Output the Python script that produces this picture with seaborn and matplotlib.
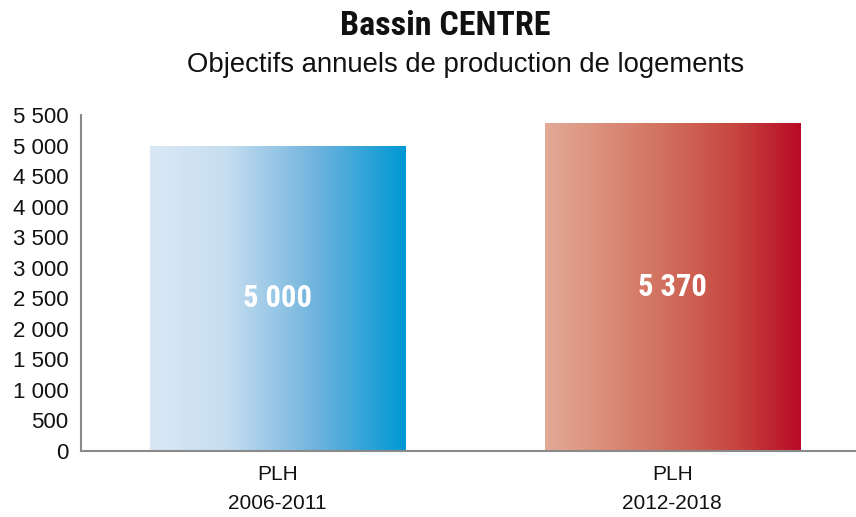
import numpy as np
import pandas as pd
import matplotlib
matplotlib.use("Agg")
import matplotlib.pyplot as plt
from matplotlib.colors import LinearSegmentedColormap
from matplotlib import font_manager
import seaborn as sns

# ---- data ----
categories = ["PLH\n2006-2011", "PLH\n2012-2018"]
values = [5000, 5370]
value_labels = ["5 000", "5 370"]
yticks = [0, 500, 1000, 1500, 2000, 2500, 3000, 3500, 4000, 4500, 5000, 5500]
ytick_labels = ["0", "500", "1 000", "1 500", "2 000", "2 500", "3 000", "3 500",
                "4 000", "4 500", "5 000", "5 500"]
title = "Bassin CENTRE"
subtitle = "Objectifs annuels de production de logements"

sns.set_theme(style="white")
plt.rcParams['font.family'] = ['Liberation Sans', 'DejaVu Sans']

names = {f.name for f in font_manager.fontManager.ttflist}
narrow = [n for n in ['Liberation Sans Narrow', 'DejaVu Sans Condensed', 'Roboto Condensed'] if n in names]
narrow = narrow + ['DejaVu Sans']

df = pd.DataFrame({"cat": categories, "val": values})

fig = plt.figure(figsize=(8.56, 5.17), dpi=100)
ax = fig.add_axes([81/856, 66/517, 775/856, 336/517])

sns.barplot(data=df, x="cat", y="val", hue="cat", palette=["#6fb6e0", "#cf5a4c"],
            width=0.646, legend=False, ax=ax, saturation=1)

cmaps = [
    LinearSegmentedColormap.from_list("b", [(0, "#dae8f5"), (0.3, "#c6def0"), (0.65, "#6fb3dd"), (1, "#0098d4")]),
    LinearSegmentedColormap.from_list("r", [(0, "#e3aa96"), (0.45, "#d27260"), (0.75, "#c6453f"), (1, "#b80a26")]),
]
grad = np.linspace(0, 1, 256).reshape(1, -1)
for patch, cm in zip(ax.patches, cmaps):
    x0, w, h = patch.get_x(), patch.get_width(), patch.get_height()
    im = ax.imshow(grad, cmap=cm, aspect="auto", extent=[x0, x0 + w, 0, h], zorder=patch.get_zorder() + 0.1)
    im.set_clip_path(patch)
    patch.set_facecolor("none")
    patch.set_edgecolor("none")

for i, (v, lab) in enumerate(zip(values, value_labels)):
    ax.text(i, v / 2, lab, ha="center", va="center", color="white",
            fontsize=22, fontweight="bold", family=narrow, fontstretch="condensed", zorder=5)

ax.set_xlim(-0.497, 1.465)
ax.set_ylim(0, 5500)
ax.set_yticks(yticks)
ax.set_yticklabels(ytick_labels, fontsize=16)
ax.set_xticks(range(len(categories)))
ax.set_xticklabels(categories, fontsize=15, linespacing=1.65)
ax.tick_params(axis="y", length=0, pad=9, colors="#111111")
ax.tick_params(axis="x", length=0, pad=10, colors="#111111")
ax.set_xlabel("")
ax.set_ylabel("")
for s in ["top", "right"]:
    ax.spines[s].set_visible(False)
for s in ["left", "bottom"]:
    ax.spines[s].set_color("#8a8a8a")
    ax.spines[s].set_linewidth(1.5)
ax.spines["left"].set_bounds(0, 5500)

fig.text(445/856, 1 - 26/517, title, ha="center", va="center", fontsize=24.5,
         fontweight="bold", family=narrow, fontstretch="condensed", color="#111111")
fig.text(466/856, 1 - 65/517, subtitle, ha="center", va="center", fontsize=19.8,
         color="#111111")

fig.savefig("out.png", dpi=100)
